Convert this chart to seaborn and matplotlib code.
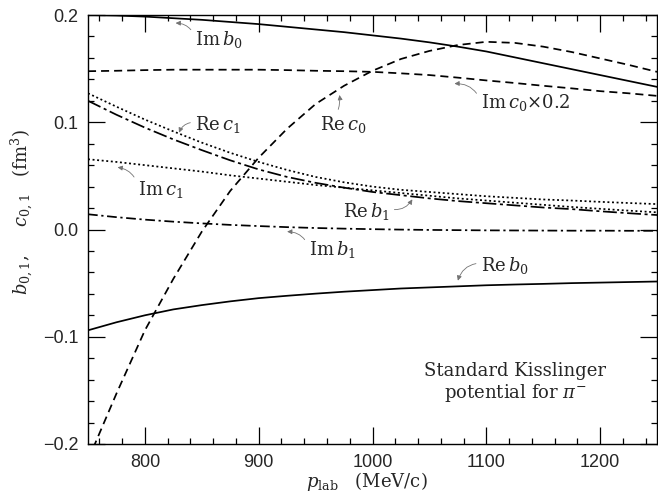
import numpy as np
import pandas as pd
import matplotlib
matplotlib.use("Agg")
import matplotlib.pyplot as plt
from matplotlib.ticker import MultipleLocator, FuncFormatter
import seaborn as sns

# Pion momentum grid (MeV/c)
p_lab = [750, 775, 800, 825, 850, 875, 900, 925, 950, 975, 1000,
         1025, 1050, 1075, 1100, 1125, 1150, 1175, 1200, 1225, 1250]

# Kisslinger potential parameters (fm^3)
im_b0 = [0.2000, 0.1995, 0.1985, 0.1970, 0.1955, 0.1935, 0.1915, 0.1890, 0.1865, 0.1840, 0.1810,
         0.1780, 0.1745, 0.1705, 0.1660, 0.1605, 0.1550, 0.1495, 0.1440, 0.1385, 0.1330]
re_b0 = [-0.0940, -0.0865, -0.0800, -0.0745, -0.0705, -0.0670, -0.0640, -0.0618, -0.0598, -0.0580, -0.0565,
         -0.0550, -0.0540, -0.0530, -0.0520, -0.0513, -0.0507, -0.0500, -0.0495, -0.0490, -0.0485]
re_b1 = [0.1200, 0.1070, 0.0950, 0.0840, 0.0740, 0.0645, 0.0560, 0.0490, 0.0435, 0.0390, 0.0350,
         0.0320, 0.0290, 0.0265, 0.0245, 0.0225, 0.0205, 0.0190, 0.0170, 0.0152, 0.0135]
im_b1 = [0.0142, 0.0115, 0.0092, 0.0073, 0.0057, 0.0043, 0.0032, 0.0022, 0.0014, 0.0008, 0.0003,
         -0.0001, -0.0004, -0.0006, -0.0008, -0.0009, -0.0010, -0.0011, -0.0011, -0.0012, -0.0012]
re_c0 = [-0.2150, -0.1530, -0.0940, -0.0460, -0.0020, 0.0360, 0.0670, 0.0940, 0.1170, 0.1340, 0.1480,
         0.1590, 0.1665, 0.1720, 0.1750, 0.1740, 0.1705, 0.1655, 0.1595, 0.1535, 0.1470]
im_c0 = [0.738, 0.740, 0.743, 0.745, 0.745, 0.745, 0.745, 0.743, 0.740, 0.738, 0.735,
         0.728, 0.720, 0.708, 0.695, 0.683, 0.670, 0.658, 0.645, 0.635, 0.623]
re_c1 = [0.1270, 0.1145, 0.1025, 0.0915, 0.0810, 0.0715, 0.0630, 0.0555, 0.0490, 0.0440, 0.0400,
         0.0370, 0.0350, 0.0330, 0.0310, 0.0295, 0.0280, 0.0270, 0.0258, 0.0247, 0.0237]
im_c1 = [0.0655, 0.0630, 0.0600, 0.0570, 0.0540, 0.0505, 0.0475, 0.0445, 0.0415, 0.0390, 0.0365,
         0.0340, 0.0315, 0.0290, 0.0270, 0.0250, 0.0230, 0.0210, 0.0193, 0.0176, 0.0160]
im_c0_scale = 0.2

x_ticks = [800, 900, 1000, 1100, 1200]
y_ticks = [-0.2, -0.1, 0.0, 0.1, 0.2]

sns.set_style("ticks")
plt.rcParams["font.family"] = ["DejaVu Serif"]
plt.rcParams["mathtext.fontset"] = "dejavuserif"
plt.rcParams["lines.scale_dashes"] = False

series = {
    "Im b0": im_b0,
    "Re b0": re_b0,
    "Re b1": re_b1,
    "Im b1": im_b1,
    "Re c0": re_c0,
    "Im c0 x0.2": [v * im_c0_scale for v in im_c0],
    "Re c1": re_c1,
    "Im c1": im_c1,
}
df = pd.concat(
    [pd.DataFrame({"p": p_lab, "val": vals, "curve": name}) for name, vals in series.items()],
    ignore_index=True,
)

dash_map = {
    "Im b0": "",
    "Re b0": "",
    "Re b1": (10.0, 2.6, 2.2, 2.6),
    "Im b1": (7.0, 2.6, 1.6, 2.6),
    "Re c0": (5.8, 3.6),
    "Im c0 x0.2": (5.8, 3.6),
    "Re c1": (1.4, 1.9),
    "Im c1": (1.4, 1.9),
}

fig = plt.figure(figsize=(6.58, 4.95), dpi=100)
ax = fig.add_axes([88 / 658, 51 / 495, 569 / 658, 429 / 495])

sns.lineplot(data=df, x="p", y="val", style="curve", dashes=dash_map,
             color="black", linewidth=1.25, estimator=None, sort=False,
             legend=False, ax=ax)

ax.set_xlim(750, 1250)
ax.set_ylim(-0.2, 0.2)
ax.set_xticks(x_ticks)
ax.set_yticks(y_ticks)
ax.xaxis.set_minor_locator(MultipleLocator(20))
ax.yaxis.set_minor_locator(MultipleLocator(0.02))
ax.yaxis.set_major_formatter(FuncFormatter(lambda v, _: f"{v:.1f}".replace("-", "\u2212")))
ax.tick_params(which="both", direction="in", top=True, right=True, color="black", width=0.9)
ax.tick_params(which="major", length=12.5, labelsize=13, pad=7)
ax.tick_params(which="minor", length=4.5)
for lab in ax.get_xticklabels() + ax.get_yticklabels():
    lab.set_family("Liberation Sans")
for s in ax.spines.values():
    s.set_linewidth(1.0)
    s.set_color("black")

ax.set_xlabel(r"$p_{\rm lab}$   (MeV/c)", fontsize=13)
ax.set_ylabel(r"$b_{0,1}$,     $c_{0,1}$   (fm$^3$)", fontsize=13)
ax.xaxis.set_label_coords(0.49, -0.06)
ax.yaxis.set_label_coords(-0.094, 0.54)

arrow = dict(arrowstyle="-|>", color="0.45", lw=0.6, mutation_scale=7,
             shrinkA=1, shrinkB=0)

labels = [
    (r"Im$\,b_0$", (827, 0.1925), (844, 0.172), (0.0, 0.6), "arc3,rad=0.35"),
    (r"Im$\,c_0$$\times$0.2", (1072, 0.136), (1095, 0.113), (0.0, 0.6), "arc3,rad=0.35"),
    (r"Re$\,c_0$", (971, 0.1254), (954, 0.0928), (0.35, 1.0), "arc3,rad=0.15"),
    (r"Re$\,c_1$", (830, 0.0903), (844, 0.0928), (0.0, 0.6), "arc3,rad=0.35"),
    (r"Im$\,c_1$", (776, 0.058), (794, 0.0322), (0.0, 0.6), "arc3,rad=0.35"),
    (r"Re$\,b_1$", (1035, 0.0281), (974, 0.012), (1.0, 0.6), "arc3,rad=0.35"),
    (r"Im$\,b_1$", (925, -0.002), (944, -0.0238), (0.0, 0.6), "arc3,rad=0.35"),
    (r"Re$\,b_0$", (1075, -0.0477), (1095, -0.0384), (0.0, 0.6), "arc3,rad=0.35"),
]
for text, tip, pos, rel, conn in labels:
    ax.annotate(text, xy=tip, xytext=pos, fontsize=13, ha="left", va="baseline",
                arrowprops=dict(arrow, relpos=rel, connectionstyle=conn))

ax.text(1125.6, -0.137, "Standard Kisslinger", fontsize=13, ha="center", va="baseline")
ax.text(1125.6, -0.157, r"potential for $\pi^{-}$", fontsize=13, ha="center", va="baseline")

fig.savefig("out.png", dpi=100)
